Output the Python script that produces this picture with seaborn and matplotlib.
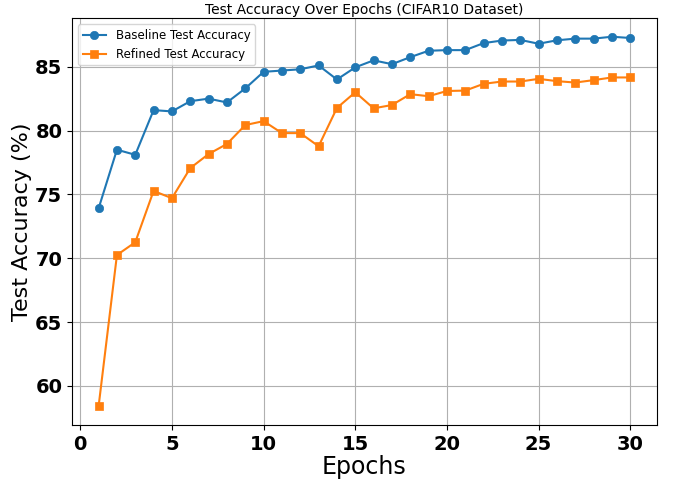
import numpy as np
import pandas as pd
import matplotlib
matplotlib.use("Agg")
import matplotlib.pyplot as plt
import seaborn as sns

# Данные
epochs = list(range(1, 31))
baseline_acc = [73.9, 78.5, 78.1, 81.6, 81.5, 82.3, 82.5, 82.2, 83.3, 84.6,
                84.7, 84.8, 85.1, 84.0, 84.95, 85.5, 85.2, 85.75, 86.25, 86.3,
                86.3, 86.85, 87.05, 87.1, 86.8, 87.07, 87.2, 87.2, 87.35, 87.25]
refined_acc = [58.4, 70.25, 71.25, 75.27, 74.7, 77.06, 78.16, 78.95, 80.43, 80.74,
               79.8, 79.8, 78.77, 81.77, 83.0, 81.74, 82.0, 82.85, 82.69, 83.1,
               83.13, 83.66, 83.84, 83.84, 84.05, 83.87, 83.76, 83.95, 84.16, 84.16]

df = pd.DataFrame({
    "epoch": epochs + epochs,
    "acc": baseline_acc + refined_acc,
    "series": ["Baseline Test Accuracy"] * len(epochs) + ["Refined Test Accuracy"] * len(epochs),
})

fig, ax = plt.subplots(figsize=(6.73, 4.8), dpi=100)

sns.lineplot(data=df[df["series"] == "Baseline Test Accuracy"], x="epoch", y="acc",
             marker="o", markersize=6, color="#1f77b4", markeredgecolor="#1f77b4",
             markeredgewidth=0.5, label="Baseline Test Accuracy", ax=ax)
sns.lineplot(data=df[df["series"] == "Refined Test Accuracy"], x="epoch", y="acc",
             marker="s", markersize=6, color="#ff7f0e", markeredgecolor="#ff7f0e",
             markeredgewidth=0.5, label="Refined Test Accuracy", ax=ax)

ax.set_title("Test Accuracy Over Epochs (CIFAR10 Dataset)", fontsize=10, pad=3)
ax.set_xlabel("Epochs", fontsize=17, labelpad=1)
ax.set_ylabel("Test Accuracy (%)", fontsize=16, labelpad=2)
ax.set_xticks([0, 5, 10, 15, 20, 25, 30])
ax.set_yticks([60, 65, 70, 75, 80, 85])
for lbl in ax.get_xticklabels() + ax.get_yticklabels():
    lbl.set_fontsize(14)
    lbl.set_fontweight("bold")
ax.grid(True)
ax.legend(loc="upper left", fontsize=8.5)

fig.subplots_adjust(left=0.107, right=0.976, top=0.962, bottom=0.115)
plt.savefig("out.png", dpi=100)
